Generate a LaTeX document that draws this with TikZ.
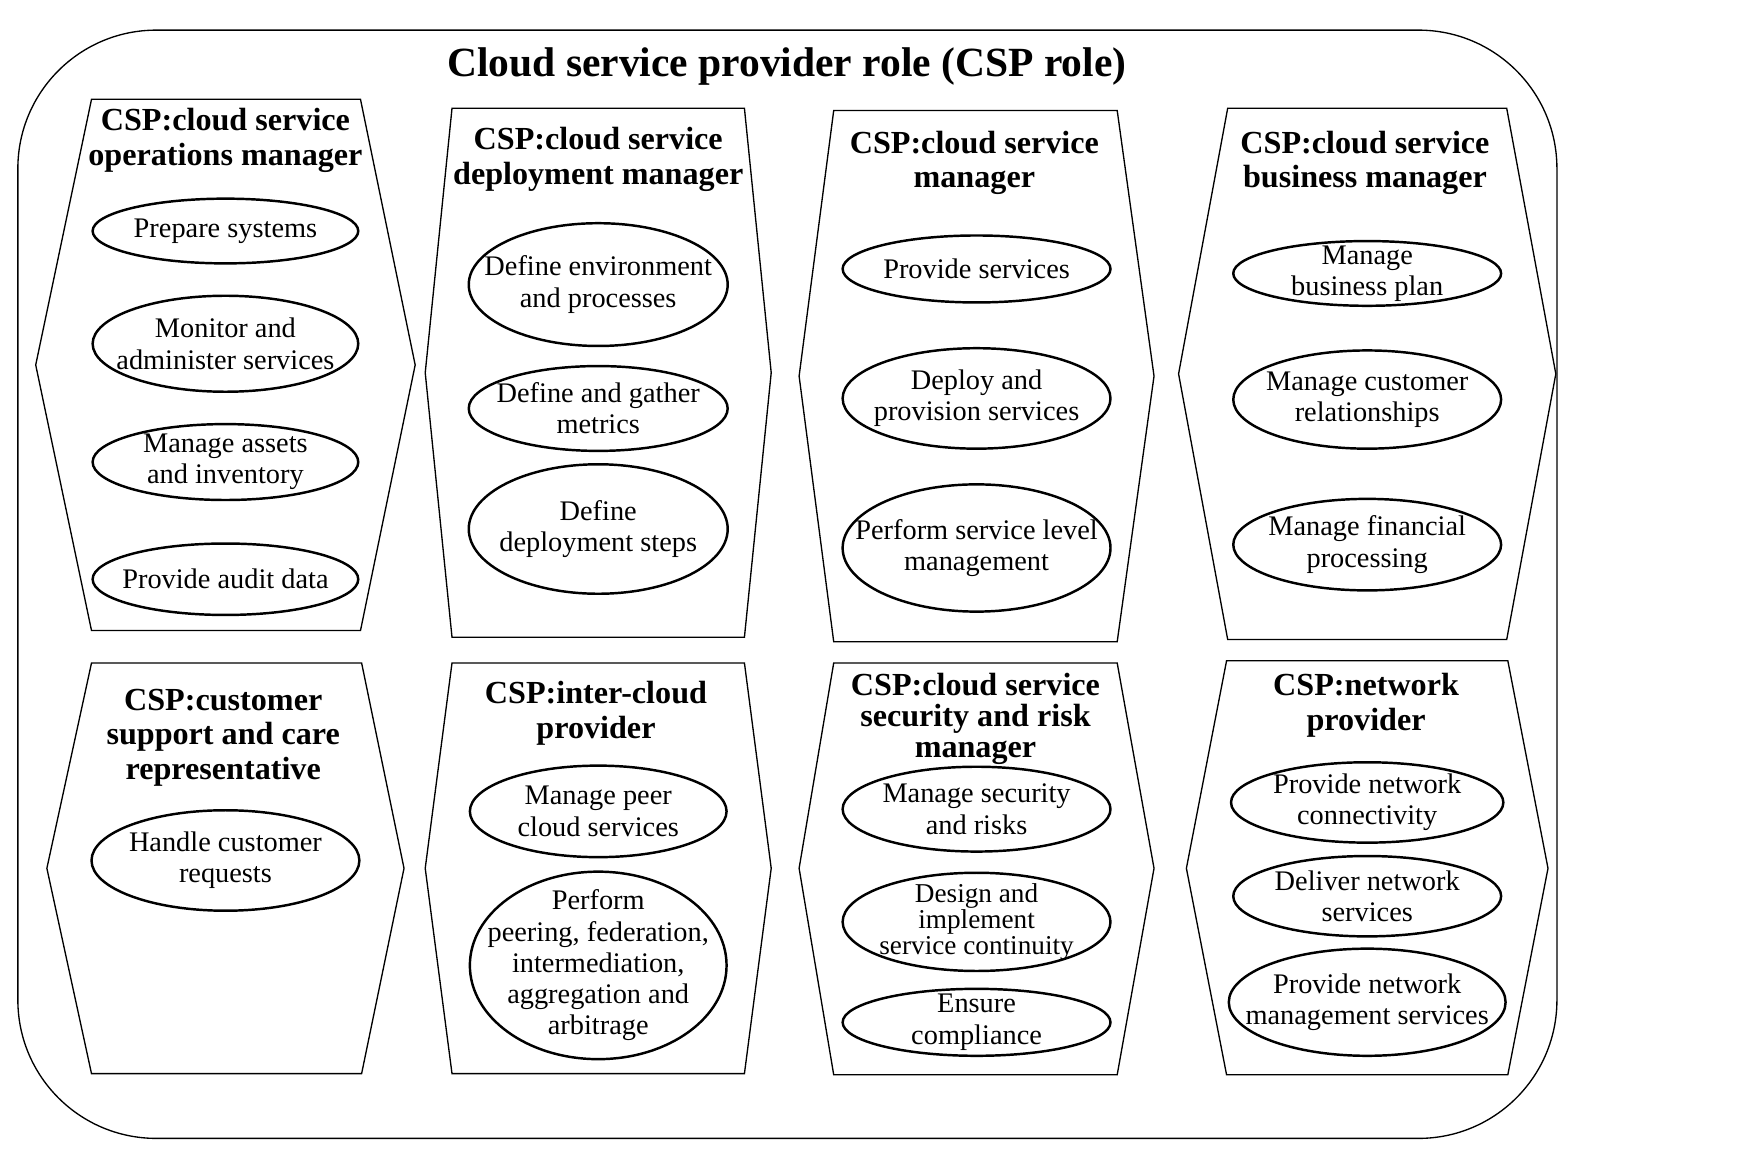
\documentclass[tikz,border=0pt]{standalone}
\usepackage{fontspec}
\setmainfont{Liberation Serif}
\usetikzlibrary{shapes.geometric}

\begin{document}
\begin{tikzpicture}[x=0.5pt, y=-0.5pt]
    % Define styles
    \tikzset{
        frame/.style={
            draw,
            line width=0.6pt,
            rounded corners=62pt
        },
        panel/.style={
            draw,
            line width=0.6pt
        },
        heading/.style={
            font=\fontsize{14.4}{15.5}\selectfont\bfseries,
            align=center,
            inner sep=0pt
        },
        task/.style={
            draw,
            ellipse,
            line width=1.1pt,
            inner sep=-90pt,
            align=center,
            font=\fontsize{12.7}{14}\selectfont
        }
    }
    \useasboundingbox (0,0) rectangle (1568,1047);

    % Outer frame and title
    \draw[frame] (16,27) rectangle (1395,1020);
    \node[font=\fontsize{18.6}{22}\selectfont\bfseries] (title) at (705,60) {Cloud service provider role (CSP role)};

    % Top row panels
    \draw[panel] (82,89) -- (323,89) -- (372,327) -- (323,565) -- (82,565) -- (32,327) -- cycle;
    \draw[panel] (405,97) -- (667,97) -- (691,334) -- (667,571) -- (405,571) -- (381,334) -- cycle;
    \draw[panel] (747,99) -- (1001,99) -- (1034,337) -- (1001,575) -- (747,575) -- (716,337) -- cycle;
    \draw[panel] (1100,97) -- (1350,97) -- (1394,335) -- (1350,573) -- (1100,573) -- (1056,335) -- cycle;

    % Bottom row panels
    \draw[panel] (82,594) -- (324,594) -- (362,778) -- (324,962) -- (82,962) -- (42,778) -- cycle;
    \draw[panel] (405,594) -- (667,594) -- (691,778) -- (667,962) -- (405,962) -- (381,778) -- cycle;
    \draw[panel] (747,594) -- (1001,594) -- (1034,778) -- (1001,963) -- (747,963) -- (716,778) -- cycle;
    \draw[panel] (1099,592) -- (1351,592) -- (1387,778) -- (1351,963) -- (1099,963) -- (1063,778) -- cycle;

    % Operations manager
    \node[heading] (ops) at (202,126) {CSP:cloud service\\operations manager};
    \node[task, minimum width=119pt, minimum height=29pt] (prep) at (202,207) {Prepare systems};
    \node[task, minimum width=119pt, minimum height=43pt] (monitor) at (202,308) {Monitor and\\administer services};
    \node[task, minimum width=119pt, minimum height=34pt] (assets) at (202,414) {Manage assets\\and inventory};
    \node[task, minimum width=119pt, minimum height=32pt] (audit) at (202,519) {Provide audit data};

    % Deployment manager
    \node[heading] (deploy) at (536,143) {CSP:cloud service\\deployment manager};
    \node[task, minimum width=116pt, minimum height=55pt] (environ) at (536,255) {Define environment\\and processes};
    \node[task, minimum width=116pt, minimum height=38pt] (metrics) at (536,366) {Define and gather\\metrics};
    \node[task, minimum width=116pt, minimum height=58pt] (steps) at (536,474) {Define\\deployment steps};

    % Service manager
    \node[heading] (svcmgr) at (873,146) {CSP:cloud service\\manager};
    \node[task, minimum width=120pt, minimum height=30pt] (provide) at (875,241) {Provide services};
    \node[task, minimum width=120pt, minimum height=45pt] (provision) at (875,357) {Deploy and\\provision services};
    \node[task, minimum width=120pt, minimum height=57pt] (level) at (875,491) {Perform service level\\management};

    % Business manager
    \node[heading] (business) at (1223,146) {CSP:cloud service\\business manager};
    \node[task, minimum width=120pt, minimum height=29pt] (plan) at (1225,245) {Manage\\business plan};
    \node[task, minimum width=120pt, minimum height=44pt] (customer) at (1225,358) {Manage customer\\relationships};
    \node[task, minimum width=120pt, minimum height=41pt] (finance) at (1225,488) {Manage financial\\processing};

    % Customer support
    \node[heading] (support) at (200,661) {CSP:customer\\support and care\\representative};
    \node[task, minimum width=120pt, minimum height=45pt] (requests) at (202,771) {Handle customer\\requests};

    % Inter-cloud provider
    \node[heading] (inter) at (534,639) {CSP:inter-cloud\\provider};
    \node[task, minimum width=115pt, minimum height=41pt] (peer) at (536,727) {Manage peer\\cloud services};
    \node[task, minimum width=115pt, minimum height=84pt] (peering) at (536,865) {Perform\\peering, federation,\\intermediation,\\aggregation and\\arbitrage};

    % Security and risk manager
    \node[heading, font=\fontsize{14.4}{13.75}\selectfont\bfseries] (security) at (874,644) {CSP:cloud service\\security and risk\\manager};
    \node[task, minimum width=120pt, minimum height=38pt] (risks) at (875,725) {Manage security\\and risks};
    \node[task, minimum width=120pt, minimum height=44pt, font=\fontsize{12.2}{13}\selectfont] (continuity) at (875,826) {Design and\\[-1.5pt]implement\\[-1.5pt]service continuity};
    \node[task, minimum width=120pt, minimum height=30pt] (compliance) at (875,916) {Ensure\\compliance};

    % Network provider
    \node[heading] (network) at (1224,632) {CSP:network\\provider};
    \node[task, minimum width=122pt, minimum height=36pt] (connect) at (1225,719) {Provide network\\connectivity};
    \node[task, minimum width=120pt, minimum height=36pt] (deliver) at (1225,803) {Deliver network\\services};
    \node[task, minimum width=124pt, minimum height=48pt] (netmgmt) at (1225,898) {Provide network\\management services};
\end{tikzpicture}
\end{document}
